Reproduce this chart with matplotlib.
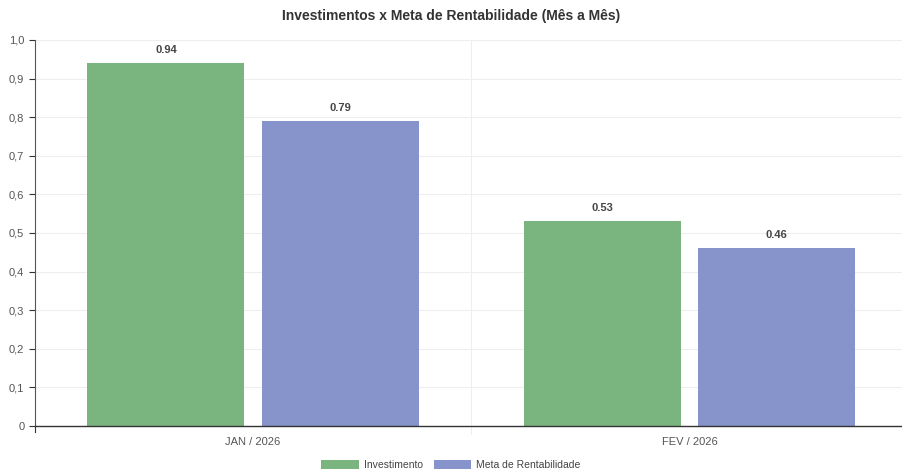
import numpy as np
import matplotlib
matplotlib.use("Agg")
import matplotlib.pyplot as plt
from matplotlib.patches import Patch

plt.rcParams['font.family'] = ['Liberation Sans', 'DejaVu Sans']

categories = ["JAN / 2026", "FEV / 2026"]
investimento = [0.94, 0.53]
meta = [0.79, 0.46]
series_names = ["Investimento", "Meta de Rentabilidade"]
yticks = [0, 0.1, 0.2, 0.3, 0.4, 0.5, 0.6, 0.7, 0.8, 0.9, 1.0]
ytick_labels = ["0", "0,1", "0,2", "0,3", "0,4", "0,5", "0,6", "0,7", "0,8", "0,9", "1,0"]

green = "#7ab57f"
blue = "#8794cc"
text_col = "#555555"

fig = plt.figure(figsize=(9.02, 4.75), dpi=100)
ax = fig.add_axes([0.0385, 0.1032, 0.968, 0.8126])

x = np.arange(len(categories))
w = 0.36
gap = 0.039
off = (w + gap) / 2
b1 = ax.bar(x - off, investimento, w, color=green, zorder=2)
b2 = ax.bar(x + off, meta, w, color=blue, zorder=2)

for bars, vals in ((b1, investimento), (b2, meta)):
    for b, v in zip(bars, vals):
        ax.text(b.get_x() + b.get_width() / 2, v + 0.022, f"{v:.2f}",
                ha="center", va="bottom", fontsize=8, fontweight="bold",
                color="#444444")

ax.set_xlim(-0.5, len(categories) - 0.5)
ax.set_ylim(0, 1.0)
ax.set_yticks(yticks)
ax.set_yticklabels(ytick_labels)
ax.set_xticks(x)
ax.set_xticklabels(categories)
ax.tick_params(axis="y", labelsize=8, colors="#333333", length=4, width=0.8, labelcolor=text_col)
ax.tick_params(axis="x", labelsize=8, length=0, labelcolor=text_col, pad=8)

# grid
for yv in yticks[1:]:
    ax.axhline(yv, color="#eeeeee", lw=0.8, zorder=0)
ax.plot([0.5, 0.5], [-0.02, 1.0], color="#eeeeee", lw=0.8, zorder=0, clip_on=False)
ax.plot([-0.5, -0.5], [0, -0.015], color="#333333", lw=0.8, clip_on=False)

for s in ("top", "right"):
    ax.spines[s].set_visible(False)
ax.spines["left"].set_color("#555555")
ax.spines["left"].set_linewidth(0.8)
ax.spines["bottom"].set_color("#333333")
ax.spines["bottom"].set_linewidth(1.0)
ax.spines["bottom"].set_bounds(-0.5, 1.493)

fig.text(0.5, 0.966, "Investimentos x Meta de Rentabilidade (Mês a Mês)",
         ha="center", va="center", fontsize=10, fontweight="bold", color="#333333")

handles = [Patch(facecolor=green, edgecolor="none"), Patch(facecolor=blue, edgecolor="none")]
fig.legend(handles, series_names, loc="center", bbox_to_anchor=(0.5, 0.021), ncol=2,
           frameon=False, fontsize=7.5, handlelength=3.6, handleheight=0.9,
           columnspacing=1.0, handletextpad=0.5, labelcolor="#444444")

fig.savefig("out.png", dpi=100)
